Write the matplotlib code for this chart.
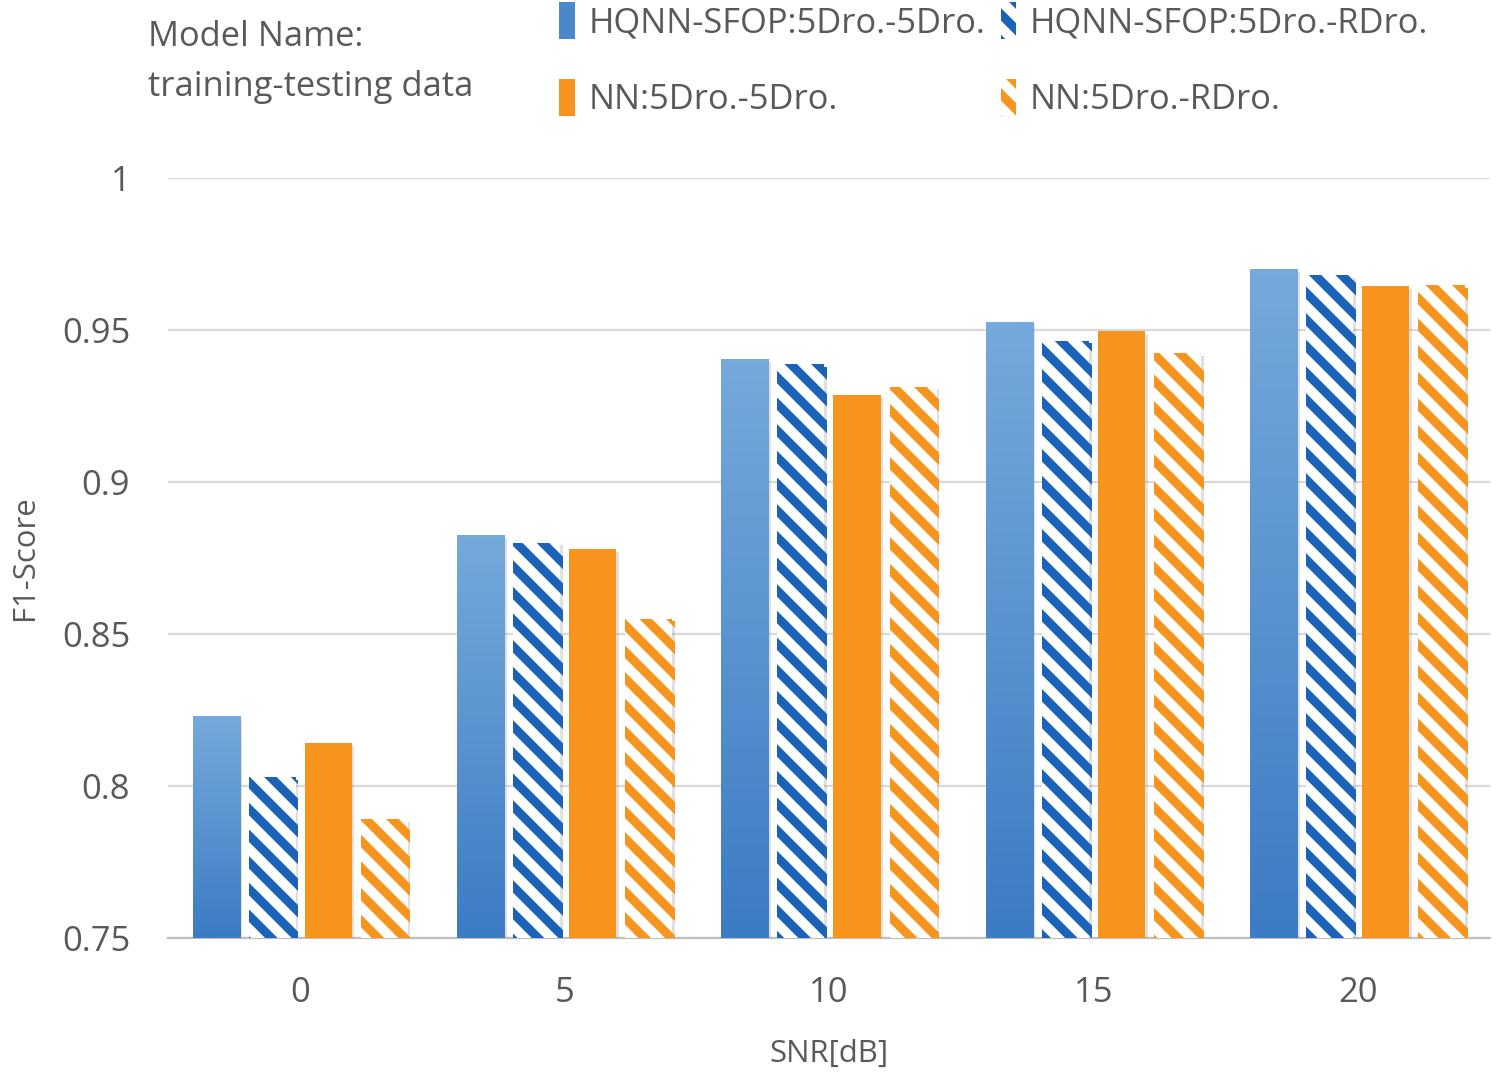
import numpy as np
import matplotlib.pyplot as plt
import matplotlib.patheffects as pe
from matplotlib.patches import Patch
from matplotlib.colors import LinearSegmentedColormap

plt.rcParams['font.family'] = ['Open Sans', 'DejaVu Sans']
plt.rcParams['hatch.linewidth'] = 4.0

snr = ['0', '5', '10', '15', '20']
hq_5_5 = [0.823, 0.8825, 0.9405, 0.9525, 0.970]
hq_5_r = [0.803, 0.880, 0.9388, 0.9465, 0.968]
nn_5_5 = [0.814, 0.878, 0.9285, 0.9497, 0.9645]
nn_5_r = [0.789, 0.855, 0.9313, 0.9424, 0.9648]
labels = ['HQNN-SFOP:5Dro.-5Dro.', 'HQNN-SFOP:5Dro.-RDro.',
          'NN:5Dro.-5Dro.', 'NN:5Dro.-RDro.']

blue = '#4A88CB'
blue_dark = '#1A63B8'
orange = '#F7941E'
txt = '#595959'

fig = plt.figure(figsize=(9.375, 6.7375), dpi=160)
ax = fig.add_axes([0.112, 0.1299, 0.8813, 0.705])

x = np.arange(len(snr))
w = 0.178
step = 0.212
shadow = [pe.SimplePatchShadow(offset=(1.2, -1.2), shadow_rgbFace='#999999', alpha=0.3), pe.Normal()]

# blue bars get a vertical gradient, clipped to the bar shape
grad = LinearSegmentedColormap.from_list('g', ['#3C7CC4', '#76A9DB'])
b1 = ax.bar(x - 1.5 * step, hq_5_5, w, color=blue, zorder=3, path_effects=shadow)
for r in b1:
    x0 = r.get_x()
    img = ax.imshow(np.linspace(0, 1, 100).reshape(-1, 1), extent=[x0, x0 + w, 0.75, r.get_height()],
                    origin='lower', aspect='auto', cmap=grad, zorder=3.5)
    img.set_clip_path(r)
ax.bar(x - 0.5 * step, hq_5_r, w, color='white', edgecolor=blue_dark, hatch='\\\\', linewidth=0,
       zorder=3, path_effects=shadow)
ax.bar(x + 0.5 * step, nn_5_5, w, color=orange, zorder=3, path_effects=shadow)
ax.bar(x + 1.5 * step, nn_5_r, w, color='white', edgecolor=orange, hatch='\\\\', linewidth=0,
       zorder=3, path_effects=shadow)

ax.set_xlim(-0.5, 4.5)
ax.set_ylim(0.75, 1.0)
ax.set_yticks([0.75, 0.8, 0.85, 0.9, 0.95, 1.0])
ax.set_yticklabels(['0.75', '0.8', '0.85', '0.9', '0.95', '1'])
ax.set_xticks(x)
ax.set_xticklabels(snr)
ax.grid(axis='y', color='#D9D9D9', linewidth=1.0, zorder=0)
ax.set_axisbelow(True)
for s in ['top', 'right', 'left']:
    ax.spines[s].set_visible(False)
ax.spines['bottom'].set_color('#BFBFBF')
ax.spines['bottom'].set_linewidth(1.0)
ax.tick_params(length=0, labelsize=15.5, colors=txt)
ax.tick_params(axis='x', pad=17)
ax.tick_params(axis='y', pad=17)
ax.set_xlabel('SNR[dB]', fontsize=14, color=txt, labelpad=13)
ax.set_ylabel('F1-Score', fontsize=14, color=txt, labelpad=10)

fig.text(0.099, 0.966, 'Model Name:', fontsize=15.5, color=txt, va='center')
fig.text(0.099, 0.919, 'training-testing data', fontsize=15.5, color=txt, va='center')

handles = [Patch(facecolor=blue), Patch(facecolor=orange),
           Patch(facecolor='white', edgecolor=blue_dark, hatch='\\\\', linewidth=0),
           Patch(facecolor='white', edgecolor=orange, hatch='\\\\', linewidth=0)]
leg_labels = [labels[0], labels[2], labels[1], labels[3]]
fig.legend(handles, leg_labels, ncol=2, loc='upper left', bbox_to_anchor=(0.352, 1.027),
           frameon=False, fontsize=15.5, labelcolor=txt, handlelength=0.45, handleheight=1.3,
           handletextpad=0.4, columnspacing=0.45, labelspacing=1.12)

fig.savefig('out.png', dpi=160, facecolor='white')
